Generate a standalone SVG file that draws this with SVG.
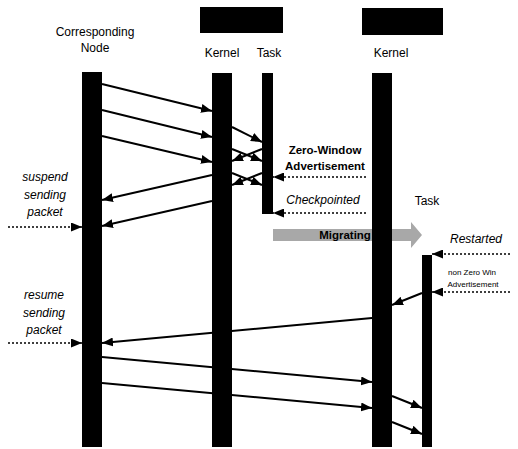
<svg xmlns="http://www.w3.org/2000/svg" width="518" height="449" viewBox="0 0 518 449">
<style>
text{font-family:"Liberation Sans",Arial,sans-serif;fill:#000}
.lbl{font-size:12px;text-anchor:middle}
.it{font-size:12px;font-style:italic;text-anchor:middle}
.sm{font-size:8px;text-anchor:middle}
.bd{font-size:11.5px;font-weight:bold;text-anchor:middle}
.bar{fill:#000}
.msg{stroke:#000;stroke-width:2;fill:none;marker-end:url(#ah)}
.dash{stroke:#000;stroke-width:1.5;stroke-dasharray:2 2;fill:none;marker-end:url(#ah)}
</style>
<defs>
<marker id="ah" markerUnits="userSpaceOnUse" markerWidth="11" markerHeight="9" refX="11" refY="4.5" orient="auto">
<path d="M0,0 L11,4.5 L0,9 z" fill="#000"/>
</marker>
</defs>
<rect width="518" height="449" fill="#fff"/>
<g id="headers">
<rect x="200" y="7" width="83" height="26" fill="#000"/>
<rect x="362" y="8" width="81" height="27" fill="#000"/>
</g>
<g id="connectors">
<line class="msg" x1="102" y1="84" x2="212" y2="111"/>
<line class="msg" x1="102" y1="110" x2="212" y2="137"/>
<line class="msg" x1="102" y1="136" x2="212" y2="162"/>
<line class="msg" x1="232" y1="127" x2="262" y2="142"/>
<line class="msg" x1="262" y1="149" x2="232" y2="161"/>
<line class="msg" x1="232" y1="149" x2="262" y2="161"/>
<line class="msg" x1="262" y1="173" x2="232" y2="185"/>
<line class="msg" x1="232" y1="173" x2="262" y2="185"/>
<line class="msg" x1="212" y1="175" x2="102" y2="200"/>
<line class="msg" x1="212" y1="201" x2="102" y2="226"/>
<line class="dash" x1="366" y1="177" x2="273" y2="177"/>
<line class="dash" x1="366" y1="213" x2="273" y2="213"/>
<line class="dash" x1="8" y1="227" x2="82" y2="227"/>
<line class="dash" x1="510" y1="254" x2="432" y2="254"/>
<line class="dash" x1="510" y1="292" x2="432" y2="292"/>
<line class="msg" x1="422" y1="293" x2="392" y2="305"/>
<line class="msg" x1="372" y1="318" x2="102" y2="343"/>
<line class="dash" x1="8" y1="343" x2="82" y2="343"/>
<line class="msg" x1="102" y1="357" x2="372" y2="382"/>
<line class="msg" x1="102" y1="383" x2="372" y2="408"/>
<line class="msg" x1="392" y1="396" x2="422" y2="408"/>
<line class="msg" x1="392" y1="422" x2="422" y2="434"/>
<g id="migrating">
<polygon points="273,229 411,229 411,222 422,235 411,248 411,241 273,241" fill="#a8a8a8"/>
<text class="bd" x="345" y="239" fill="#222">Migrating</text>
</g>
</g>
<g id="corresponding-node">
<text class="lbl" x="95" y="36">Corresponding</text>
<text class="lbl" x="95" y="52">Node</text>
<rect class="bar" x="82" y="72" width="20" height="375"/>
</g>
<g id="kernel1">
<text class="lbl" x="222" y="57">Kernel</text>
<rect class="bar" x="212" y="73" width="20" height="374"/>
</g>
<g id="task1">
<text class="lbl" x="269" y="57">Task</text>
<rect class="bar" x="262" y="73" width="11" height="141"/>
</g>
<g id="kernel2">
<text class="lbl" x="391" y="57">Kernel</text>
<rect class="bar" x="372" y="73" width="20" height="374"/>
</g>
<g id="task2">
<text class="lbl" x="427" y="205">Task</text>
<rect class="bar" x="422" y="255" width="10" height="192"/>
</g>
<g id="labels">
<text class="bd" x="325" y="154">Zero-Window</text>
<text class="bd" x="325" y="170">Advertisement</text>
<text class="it" x="323" y="204">Checkpointed</text>
<text class="it" x="45" y="181">suspend</text>
<text class="it" x="45" y="199">sending</text>
<text class="it" x="45" y="216">packet</text>
<text class="it" x="44" y="299">resume</text>
<text class="it" x="44" y="317">sending</text>
<text class="it" x="44" y="334">packet</text>
<text class="it" x="476" y="243">Restarted</text>
<text class="sm" x="472" y="275">non Zero Win</text>
<text class="sm" x="473" y="287">Advertisement</text>
</g>
</svg>
